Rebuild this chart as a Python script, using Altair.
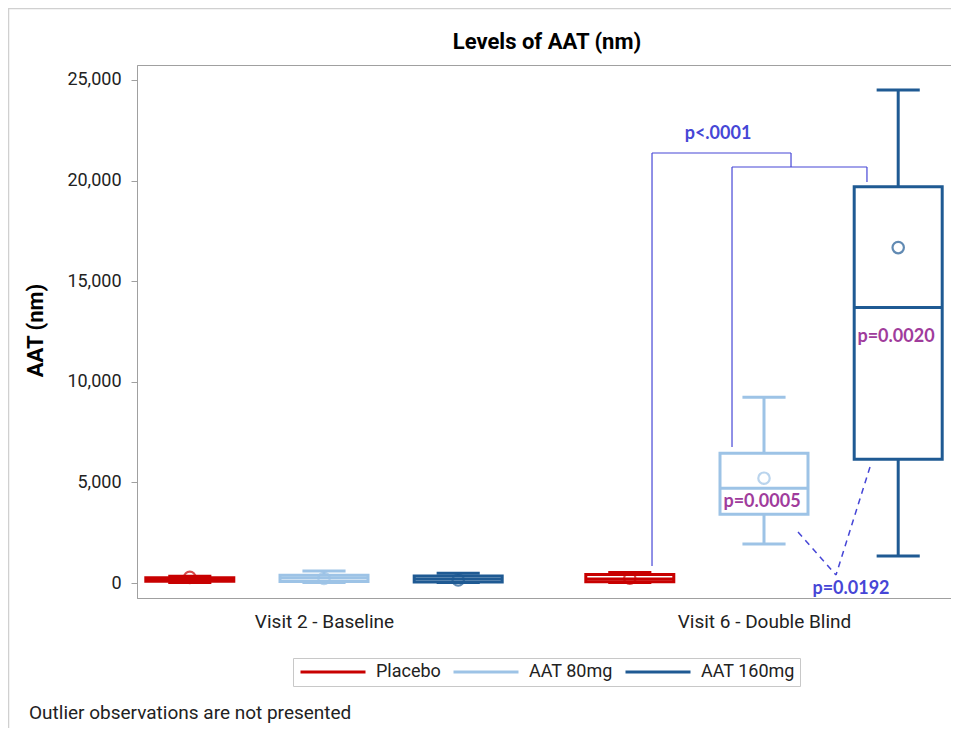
import altair as alt
import pandas as pd

FONT = "Roboto, Liberation Sans, sans-serif"
PFONT = "Lato, Open Sans, sans-serif"

groups = ["Visit 2 - Baseline", "Visit 6 - Double Blind"]
series = ["Placebo", "AAT 80mg", "AAT 160mg"]
colors = ["#c80000", "#9dc3e6", "#1f5a93"]

# one entry per box: (group index, series index)
box_group = [0, 0, 0, 1, 1, 1]
box_series = [0, 1, 2, 0, 1, 2]
v_min = [30, 30, 20, 30, 1935, 1340]
v_q1 = [90, 80, 50, 60, 3420, 6150]
v_med = [160, 250, 200, 200, 4710, 13690]
v_q3 = [260, 380, 350, 420, 6450, 19690]
v_max = [340, 600, 480, 520, 9230, 24500]
v_mean = [280, 230, 150, 240, 5210, 16670]

# comparison annotations (data coordinates)
br_x1 = [1.7455, 1.7455, 2.0614, 1.9273, 1.9273, 2.234]
br_x2 = [1.7455, 2.0614, 2.0614, 2.234, 1.9273, 2.234]
br_y1 = [845, 21372, 21372, 20676, 20676, 20676]
br_y2 = [21372, 21372, 20676, 20676, 6759, 19930]

dash_x1 = [2.0773, 2.2409]
dash_y1 = [2535, 5765]
dash_x2 = [2.1636, 2.1636]
dash_y2 = [398, 398]

p_text = ["p<.0001", "p=0.0005", "p=0.0020", "p=0.0192"]
p_x = [1.8955, 1.9955, 2.30, 2.1977]
p_y = [22316, 4050, 12227, -300]
p_col = ["#4646d6", "#a03c9c", "#a03c9c", "#4646d6"]

SPACING = 0.305
BOX_HALF = 0.1
CAP_HALF = 0.049

df = pd.DataFrame({
    "grp": box_group, "ser": box_series,
    "vmin": v_min, "q1": v_q1, "med": v_med, "q3": v_q3, "vmax": v_max, "mean": v_mean,
})
df["series"] = [series[i] for i in df["ser"]]
df["pos"] = df["grp"] + 1 + (df["ser"] - 1) * SPACING
df["bx1"] = df["pos"] - BOX_HALF
df["bx2"] = df["pos"] + BOX_HALF
df["cx1"] = df["pos"] - CAP_HALF
df["cx2"] = df["pos"] + CAP_HALF

xscale = alt.Scale(domain=[0.575, 2.425], nice=False, zero=False)
yscale = alt.Scale(domain=[-745, 25745], nice=False, zero=False)
col = alt.Color("series:N", scale=alt.Scale(domain=series, range=colors), legend=None)
col_leg = alt.Color(
    "series:N", scale=alt.Scale(domain=series, range=colors),
    legend=alt.Legend(
        orient="none", legendX=156, legendY=593, direction="horizontal", title=None,
        symbolType="M-1,0H9", symbolSize=169, symbolStrokeWidth=3,
        labelFont=FONT, labelFontSize=18, labelColor="#222", labelOffset=60,
        columnPadding=6, padding=5, strokeColor="#c8c8c8",
    ),
)

label_expr = f"datum.value == 1 ? '{groups[0]}' : '{groups[1]}'"
xaxis = alt.Axis(values=[1, 2], labelExpr=label_expr, ticks=False, grid=False, title=None,
                 labelFont=FONT, labelFontSize=19, labelColor="#222", labelPadding=14,
                 labelLimit=0, domainColor="#a0a0a0")
yaxis = alt.Axis(values=[0, 5000, 10000, 15000, 20000, 25000], format=",d", grid=False,
                 title="AAT (nm)", titleFont=FONT, titleFontSize=22, titleFontWeight="bold",
                 titleX=-102, titleY=265, titleAlign="center", titleBaseline="middle",
                 labelFont=FONT, labelFontSize=18, labelColor="#222", labelPadding=10,
                 tickSize=6, tickColor="#a0a0a0", domainColor="#a0a0a0")

base = alt.Chart(df)

wh_lo = base.mark_rule(strokeWidth=3).encode(
    x=alt.X("pos:Q", scale=xscale, axis=xaxis),
    y=alt.Y("vmin:Q", scale=yscale, axis=yaxis), y2="q1:Q", stroke=col_leg)
wh_hi = base.mark_rule(strokeWidth=3).encode(
    x=alt.X("pos:Q", scale=xscale), y=alt.Y("q3:Q", scale=yscale), y2="vmax:Q", stroke=col)
cap_lo = base.mark_rule(strokeWidth=3).encode(
    x=alt.X("cx1:Q", scale=xscale), x2="cx2:Q", y=alt.Y("vmin:Q", scale=yscale), stroke=col)
cap_hi = base.mark_rule(strokeWidth=3).encode(
    x=alt.X("cx1:Q", scale=xscale), x2="cx2:Q", y=alt.Y("vmax:Q", scale=yscale), stroke=col)
box = base.mark_rect(fill="white", strokeWidth=3).encode(
    x=alt.X("bx1:Q", scale=xscale), x2="bx2:Q",
    y=alt.Y("q1:Q", scale=yscale), y2="q3:Q", stroke=col)
med = base.mark_rule(strokeWidth=3).encode(
    x=alt.X("bx1:Q", scale=xscale), x2="bx2:Q", y=alt.Y("med:Q", scale=yscale), stroke=col)
mean = base.mark_point(shape="circle", filled=False, size=130, strokeWidth=2.2).encode(
    x=alt.X("pos:Q", scale=xscale), y=alt.Y("mean:Q", scale=yscale), stroke=col)

br = alt.Chart(pd.DataFrame({"x1": br_x1, "x2": br_x2, "y1": br_y1, "y2": br_y2})).mark_rule(
    color="#4646d6", strokeWidth=1.2).encode(
    x=alt.X("x1:Q", scale=xscale), x2="x2:Q", y=alt.Y("y1:Q", scale=yscale), y2="y2:Q")
dash = alt.Chart(pd.DataFrame({"x1": dash_x1, "x2": dash_x2, "y1": dash_y1, "y2": dash_y2})).mark_rule(
    color="#4646d6", strokeWidth=1.5, strokeDash=[6, 5]).encode(
    x=alt.X("x1:Q", scale=xscale), x2="x2:Q", y=alt.Y("y1:Q", scale=yscale), y2="y2:Q")
ptxt = alt.Chart(pd.DataFrame({"t": p_text, "x": p_x, "y": p_y, "c": p_col})).mark_text(
    font=PFONT, fontSize=18, fontWeight="bold", align="center", baseline="middle").encode(
    x=alt.X("x:Q", scale=xscale), y=alt.Y("y:Q", scale=yscale), text="t:N",
    color=alt.Color("c:N", scale=None))

one = pd.DataFrame({"a": [0]})
title = alt.Chart(one).mark_text(
    text="Levels of AAT (nm)", font=FONT, fontSize=22, fontWeight="bold", color="black",
    align="center", baseline="middle").encode(x=alt.value(410), y=alt.value(-23))
foot = alt.Chart(one).mark_text(
    text="Outlier observations are not presented", font=FONT, fontSize=19, color="#222",
    align="left", baseline="middle").encode(x=alt.value(-108), y=alt.value(648))
border = alt.Chart(one).mark_rect(fill=None, stroke="#d0d0d0", strokeWidth=1.5).encode(
    x=alt.value(-128.5), x2=alt.value(1200), y=alt.value(-56.5), y2=alt.value(1000))

chart = alt.layer(border, wh_lo, wh_hi, cap_lo, cap_hi, box, med, mean, br, dash, ptxt,
                  title, foot).properties(
    width=814, height=533,
    autosize=alt.AutoSizeParams(type="none"),
    padding={"left": 129, "top": 57, "right": 0, "bottom": 130},
).configure_view(stroke="#a0a0a0", strokeWidth=1)

chart.save("out.html", embed_options={"renderer": "svg", "actions": False})
